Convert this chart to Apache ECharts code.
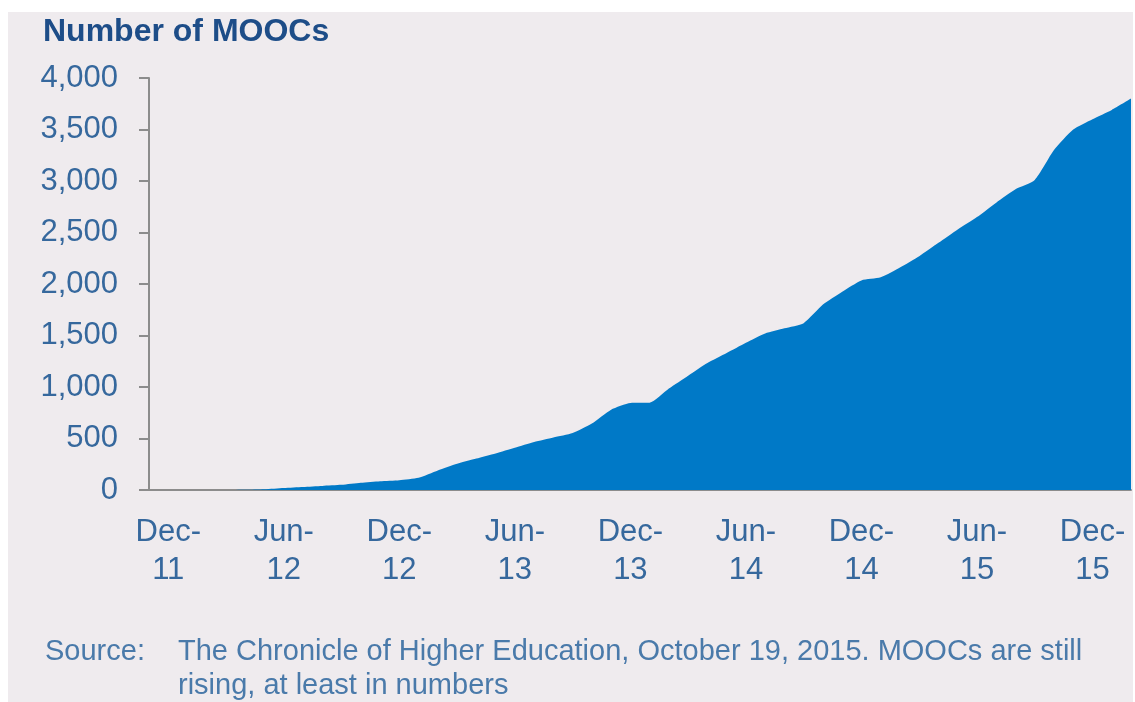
<!DOCTYPE html>
<html>
<head>
<meta charset="utf-8">
<script src="https://cdn.jsdelivr.net/npm/echarts@6/dist/echarts.min.js"></script>
<style>
html,body{margin:0;padding:0;background:#ffffff;}
#bg{position:absolute;left:8px;top:12px;width:1125px;height:690px;background:#efebee;}
#chart{position:absolute;left:0;top:0;width:1135px;height:702px;}
</style>
</head>
<body>
<div id="bg"></div>
<div id="chart"></div>
<script>
// Monthly categories Nov-11 .. Feb-16
const months = ['Jan','Feb','Mar','Apr','May','Jun','Jul','Aug','Sep','Oct','Nov','Dec'];
const categories = [];
for (let y = 11, m = 10; !(y === 16 && m === 2); ) {
  categories.push(months[m] + '-' + y);
  m++; if (m === 12) { m = 0; y++; }
}
const moocs = [
  0, 0, 0, 0, 0, 2, 8, 20, 30, 40, 50, 70, 85, 95,
  118, 190, 255, 305, 355, 410, 466, 510, 553, 645, 780, 845,
  848, 985, 1110, 1233, 1330, 1430, 1520, 1570, 1620, 1800, 1925, 2035,
  2065, 2160, 2270, 2400, 2530, 2650, 2790, 2920, 3010, 3300, 3500, 3600,
  3690, 3800
];
const yTicks = [0, 500, 1000, 1500, 2000, 2500, 3000, 3500, 4000];
const titleText = 'Number of MOOCs';
const sourceLabel = 'Source:';
const sourceLines = ['The Chronicle of Higher Education, October 19, 2015. MOOCs are still', 'rising, at least in numbers'];

const chart = echarts.init(document.getElementById('chart'));
const labelColor = '#36689d';
chart.setOption({
  backgroundColor: 'transparent',
  animation: false,
  title: {
    text: titleText, left: 38, top: 11,
    textStyle: {fontFamily: 'Liberation Sans', fontSize: 32, fontWeight: 'bold', color: '#1d4d88'}
  },
  grid: {left: 149, right: 4, top: 78, bottom: 212},
  xAxis: {
    type: 'category', data: categories, boundaryGap: false,
    axisLine: {lineStyle: {color: '#8c8c8c', width: 2}},
    axisTick: {show: false},
    axisLabel: {
      interval: function (i) { return (i - 1) % 6 === 0; },
      formatter: function (v) { const p = v.split('-'); return p[0] + '-\n' + p[1]; },
      color: labelColor, fontFamily: 'Liberation Sans', fontSize: 31, lineHeight: 38, margin: 23
    }
  },
  yAxis: {
    type: 'value', min: 0, max: 4000, interval: 500,
    axisLine: {show: true, lineStyle: {color: '#8c8c8c', width: 2}},
    axisTick: {show: true, length: 10, lineStyle: {color: '#8c8c8c', width: 2}},
    splitLine: {show: false},
    axisLabel: {
      color: labelColor, fontFamily: 'Liberation Sans', fontSize: 31, margin: 31,
      formatter: function (v) { return yTicks.indexOf(v) >= 0 ? v.toLocaleString('en-US') : ''; }
    }
  },
  series: [{
    type: 'line', data: moocs, symbol: 'none', smooth: 0.2,
    lineStyle: {width: 0}, areaStyle: {color: '#0079c7', opacity: 1}
  }],
  graphic: [
    {type: 'text', left: 45, top: 635, style: {text: sourceLabel, fontFamily: 'Liberation Sans', fontSize: 29, lineHeight: 34, fill: '#4a7aaa'}},
    {type: 'text', left: 178, top: 635, style: {text: sourceLines.join('\n'), fontFamily: 'Liberation Sans', fontSize: 29, lineHeight: 34, fill: '#4a7aaa'}}
  ]
});
</script>
</body>
</html>
